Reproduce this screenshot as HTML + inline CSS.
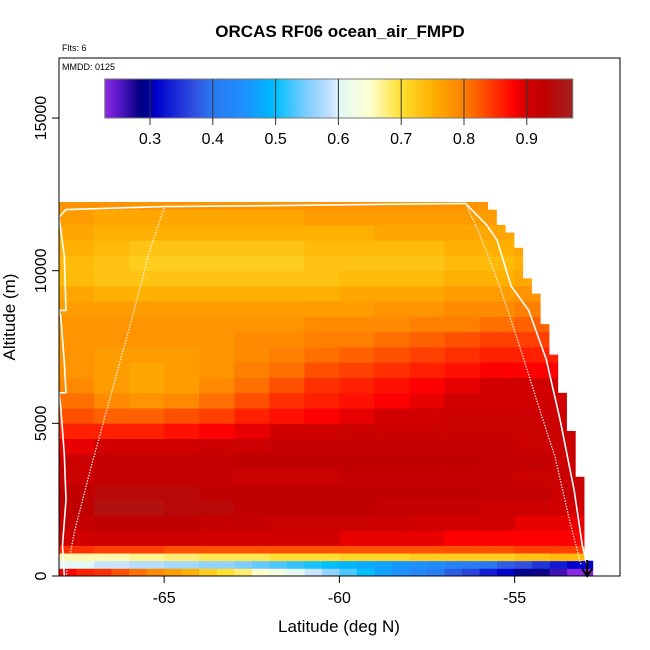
<!DOCTYPE html>
<html><head><meta charset="utf-8"><style>
html,body{margin:0;padding:0;background:#fff;}
svg{display:block;font-family:"Liberation Sans",Arial,sans-serif;}
</style></head><body>
<svg id="chart" width="650" height="650" viewBox="0 0 650 650" xmlns="http://www.w3.org/2000/svg">
<text x="340" y="37" text-anchor="middle" font-size="17" font-weight="bold">ORCAS RF06 ocean_air_FMPD</text>
<text x="62" y="51" font-size="9">Flts: 6</text>
<g id="cells"></g>
<g id="tracks"></g>
<rect x="59" y="58" width="561" height="518" fill="none" stroke="#000" stroke-width="1"/>
<text x="62" y="70" font-size="9">MMDD: 0125</text>
<g id="cbar"></g>
<g id="axes"></g>
<text x="339" y="632" text-anchor="middle" font-size="17">Latitude (deg N)</text>
<text transform="translate(15,317) rotate(-90)" text-anchor="middle" font-size="17">Altitude (m)</text>
</svg>
<script>
// ---- data ----
const latTicks = [-65, -60, -55];
const altTicks = [0, 5000, 10000, 15000];
const cbarTicks = [0.3, 0.4, 0.5, 0.6, 0.7, 0.8, 0.9];
// surface rows at 0.5 deg from -68
const row0Lats = [-68,-67.5,-67,-66.5,-66,-65.5,-65,-64.5,-64,-63.5,-63,-62.5,-62,-61.5,-61,-60.5,-60,-59.5,-59,-58.5,-58,-57.5,-57,-56.5,-56,-55.5,-55,-54.5,-54,-53.5];
const row0Vals = [0.88,0.86,0.85,0.83,0.81,0.79,0.77,0.75,0.72,0.70,0.68,0.65,0.63,0.61,0.59,0.56,0.53,0.50,0.47,0.45,0.43,0.41,0.38,0.36,0.33,0.31,0.29,0.28,0.26,0.23];
const row1Vals = [0.60,0.60,0.59,0.59,0.58,0.58,0.57,0.57,0.56,0.56,0.55,0.54,0.53,0.52,0.51,0.50,0.49,0.48,0.47,0.46,0.45,0.44,0.42,0.41,0.40,0.38,0.37,0.35,0.33,0.31];
// main grid: 1 deg columns from -68
const gridLats = [-68,-67,-66,-65,-64,-63,-62,-61,-60,-59,-58,-57,-56,-55,-54];
const gridAltBottoms = [500,750,1000,1500,2000,2500,3000,3500,4000,4500,5000,5500,6000,6500,7000,7500,8000,8500,9000,9500,10000,10500,11000,11500,12000];
const gridAltTops    = [750,1000,1500,2000,2500,3000,3500,4000,4500,5000,5500,6000,6500,7000,7500,8000,8500,9000,9500,10000,10500,11000,11500,12000,12250];
const gridVals = [
[0.66,0.66,0.67,0.68,0.69,0.69,0.70,0.70,0.71,0.71,0.72,0.72,0.72,0.73,0.74],
[0.85,0.84,0.84,0.83,0.83,0.83,0.83,0.83,0.83,0.83,0.83,0.83,0.83,0.84,0.84],
[0.90,0.91,0.91,0.91,0.90,0.90,0.90,0.90,0.89,0.89,0.89,0.88,0.88,0.88,0.88],
[0.92,0.93,0.93,0.93,0.92,0.92,0.91,0.91,0.91,0.91,0.90,0.90,0.90,0.89,0.89],
[0.93,0.95,0.95,0.94,0.94,0.93,0.93,0.93,0.93,0.92,0.92,0.92,0.91,0.91,0.90],
[0.93,0.94,0.94,0.94,0.93,0.93,0.93,0.93,0.93,0.93,0.93,0.93,0.92,0.92,0.91],
[0.91,0.92,0.92,0.92,0.92,0.91,0.91,0.91,0.92,0.92,0.92,0.92,0.92,0.91,0.91],
[0.91,0.92,0.92,0.92,0.92,0.93,0.93,0.93,0.93,0.93,0.93,0.93,0.92,0.92,0.91],
[0.89,0.90,0.90,0.90,0.91,0.91,0.92,0.92,0.92,0.92,0.92,0.92,0.92,0.91,0.91],
[0.86,0.86,0.86,0.87,0.88,0.89,0.90,0.90,0.91,0.91,0.91,0.91,0.91,0.91,0.91],
[0.83,0.82,0.82,0.83,0.84,0.86,0.87,0.88,0.89,0.90,0.90,0.91,0.91,0.91,0.91],
[0.81,0.79,0.78,0.79,0.81,0.83,0.85,0.86,0.87,0.88,0.89,0.90,0.90,0.90,0.90],
[0.79,0.77,0.76,0.77,0.79,0.81,0.83,0.85,0.86,0.87,0.88,0.89,0.90,0.90,0.90],
[0.78,0.77,0.76,0.77,0.78,0.80,0.81,0.83,0.84,0.85,0.86,0.87,0.88,0.88,0.88],
[0.78,0.77,0.77,0.77,0.78,0.79,0.80,0.81,0.82,0.83,0.84,0.85,0.86,0.86,0.86],
[0.78,0.78,0.78,0.78,0.78,0.79,0.79,0.80,0.80,0.81,0.82,0.83,0.84,0.84,0.84],
[0.78,0.78,0.78,0.78,0.78,0.78,0.78,0.79,0.79,0.79,0.80,0.80,0.81,0.82,0.82],
[0.77,0.77,0.77,0.77,0.77,0.77,0.77,0.77,0.77,0.78,0.78,0.79,0.79,0.80,0.80],
[0.76,0.75,0.75,0.75,0.75,0.75,0.75,0.75,0.76,0.76,0.76,0.77,0.77,0.78,0.78],
[0.74,0.73,0.73,0.73,0.73,0.73,0.73,0.73,0.74,0.74,0.74,0.75,0.75,0.76,0.76],
[0.74,0.73,0.72,0.72,0.72,0.72,0.72,0.73,0.73,0.73,0.73,0.74,0.74,0.75,0.75],
[0.75,0.74,0.73,0.73,0.73,0.73,0.73,0.74,0.74,0.74,0.74,0.75,0.75,0.76,0.76],
[0.76,0.75,0.75,0.75,0.75,0.75,0.75,0.75,0.75,0.76,0.76,0.76,0.76,0.77,0.77],
[0.77,0.76,0.76,0.76,0.76,0.76,0.76,0.77,0.77,0.77,0.77,0.77,0.77,0.78,0.78],
[0.78,0.78,0.78,0.78,0.78,0.78,0.78,0.78,0.78,0.78,0.78,0.78,0.78,0.78,0.78]
];
// column tops (max altitude with data) on the southern/eastern edge
const edgeLats = [-68,-55.77,-55.52,-55.27,-55.02,-54.77,-54.52,-54.27,-54.02,-53.77,-53.52,-53.27,-53.02,-52.77];
const edgeTops = [12250,12000,11500,11250,10750,9750,9250,8250,7250,6000,4750,3250,500];
// flight track (lat, alt)
const trackLat = [-67.85,-67.9,-67.8,-67.85,-67.95,-68,-67.8,-67.85,-67.95,-68,-67.8,-67.85,-68,-67.8,-65,-62,-59,-56.4,-55.8,-55.5,-55.1,-54.6,-54.1,-53.7,-53.3,-53.07,-52.93];
const trackAlt = [0,1000,2500,4000,5500,6000,6000,7000,8500,8700,8700,10500,11750,12000,12100,12130,12170,12200,11500,11000,9500,8700,7100,5100,2800,1000,350];
const dotALat = [-65,-65.4,-66,-66.55,-67.1,-67.55,-67.8];
const dotAAlt = [12050,10700,8100,5800,3500,1500,0];
const dotBLat = [-56.4,-56,-55.4,-54.85,-54.3,-53.85,-53.45,-53.1];
const dotBAlt = [12200,11200,9400,7500,5500,3900,1900,350];

// ---- scales ----
const X0 = 59, PXDEG = 35.05;
const xS = lat => X0 + (lat + 68) * PXDEG;
const yS = alt => 576 - alt * 0.03053;
const cStops = [[0.228,'#8a2be2'],[0.25,'#5a18c8'],[0.285,'#000080'],[0.30,'#0000a8'],[0.31,'#0000cd'],[0.37,'#3050e0'],[0.40,'#2a78f0'],[0.45,'#1e90ff'],[0.49,'#00b4ff'],[0.50,'#00bfff'],[0.55,'#80ccff'],[0.59,'#c8e4ff'],[0.60,'#e0f8f8'],[0.65,'#ffffd0'],[0.70,'#ffe030'],[0.75,'#ffb000'],[0.80,'#ff8000'],[0.85,'#ff3000'],[0.88,'#ff0000'],[0.90,'#d00000'],[0.93,'#c00000'],[0.97,'#a52020']];
function hex2(h){return [1,3,5].map(i=>parseInt(h.substr(i,2),16));}
function color(v){
  if(v<=cStops[0][0]) return cStops[0][1];
  for(let i=1;i<cStops.length;i++){
    if(v<=cStops[i][0]){
      const a=cStops[i-1],b=cStops[i],t=(v-a[0])/(b[0]-a[0]);
      const ca=hex2(a[1]),cb=hex2(b[1]);
      return 'rgb('+ca.map((c,k)=>Math.round(c+(cb[k]-c)*t)).join(',')+')';
    }
  }
  return cStops[cStops.length-1][1];
}
const NS='http://www.w3.org/2000/svg';
function mk(tag,attrs,parent){const e=document.createElementNS(NS,tag);for(const k in attrs)e.setAttribute(k,attrs[k]);parent.appendChild(e);return e;}

const cells=document.getElementById('cells');
function drawCell(l0,l1,a0,a1,v){
  for(let s=0;s<edgeTops.length;s++){
    const s0=Math.max(l0,edgeLats[s]), s1=Math.min(l1,edgeLats[s+1]);
    if(s1<=s0) continue;
    const top=Math.min(a1,edgeTops[s]);
    if(top<=a0) continue;
    const r=mk('rect',{x:xS(s0).toFixed(2),y:yS(top).toFixed(2),width:(xS(s1)-xS(s0)+0.4).toFixed(2),height:(yS(a0)-yS(top)+0.4).toFixed(2),fill:color(v)},cells);
    
    
  }
}
row0Lats.forEach((l,i)=>{
  const l1 = i===row0Lats.length-1 ? edgeLats[edgeLats.length-1] : l+0.5;
  drawCell(l,l1,0,250,row0Vals[i]);
  drawCell(l,l1,250,500,row1Vals[i]);
});
gridAltBottoms.forEach((a0,r)=>{
  gridLats.forEach((l,c)=>{
    const l1 = c===gridLats.length-1 ? edgeLats[edgeLats.length-1] : l+1;
    drawCell(l,l1,a0,gridAltTops[r],gridVals[r][c]);
  });
});

// tracks
const tr=document.getElementById('tracks');
function pts(la,al){return la.map((l,i)=>xS(l).toFixed(1)+','+yS(al[i]).toFixed(1)).join(' ');}
let p=mk('polyline',{points:pts(trackLat,trackAlt),fill:'none',stroke:'#fff','stroke-width':1.6,'stroke-linejoin':'round'},tr);


p=mk('polyline',{points:pts(dotALat,dotAAlt),fill:'none',stroke:'#fff','stroke-width':1.3,'stroke-dasharray':'1.3 1.5'},tr);


p=mk('polyline',{points:pts(dotBLat,dotBAlt),fill:'none',stroke:'#fff','stroke-width':1.3,'stroke-dasharray':'1.3 1.5'},tr);


const ax=xS(-52.93);
p=mk('path',{d:'M'+ax+',560 L'+ax+',576 M'+(ax-5)+',569 L'+ax+',576 L'+(ax+5)+',569',stroke:'#000','stroke-width':2,fill:'none'},tr);



// axes
const axes=document.getElementById('axes');
latTicks.forEach(t=>{
  const x=xS(t);
  let e=mk('line',{x1:x,x2:x,y1:576,y2:583,stroke:'#000'},axes);
  
  
  e=mk('text',{x:x,y:603,'text-anchor':'middle','font-size':16},axes);
  e.textContent=String(t);
  
  
});
altTicks.forEach(t=>{
  const y=yS(t);
  let e=mk('line',{x1:52,x2:59,y1:y,y2:y,stroke:'#000'},axes);
  
  
  e=mk('text',{transform:'translate(46,'+y+') rotate(-90)','text-anchor':'middle','font-size':16},axes);
  e.textContent=String(t);
  
  
});

// colorbar
const cb=document.getElementById('cbar');
const cbX=v=>150+(v-0.3)*628;
const vMin=0.228, vMax=0.973;
const nSeg=150;
for(let i=0;i<nSeg;i++){
  const v0=vMin+(vMax-vMin)*i/nSeg, v1=vMin+(vMax-vMin)*(i+1)/nSeg;
  const r=mk('rect',{x:cbX(v0).toFixed(2),y:79,width:(cbX(v1)-cbX(v0)+0.5).toFixed(2),height:39,fill:color((v0+v1)/2)},cb);
  
  
}
let fr=mk('rect',{x:cbX(vMin),y:79,width:cbX(vMax)-cbX(vMin),height:39,fill:'none',stroke:'#777','stroke-width':1},cb);


cbarTicks.forEach(t=>{
  const x=cbX(t);
  let e=mk('line',{x1:x,x2:x,y1:79,y2:125,stroke:'#333','stroke-width':1},cb);
  
  
  e=mk('text',{x:x,y:144,'text-anchor':'middle','font-size':16},cb);
  e.textContent=t.toFixed(1);
  
  
});
</script>
</body></html>
